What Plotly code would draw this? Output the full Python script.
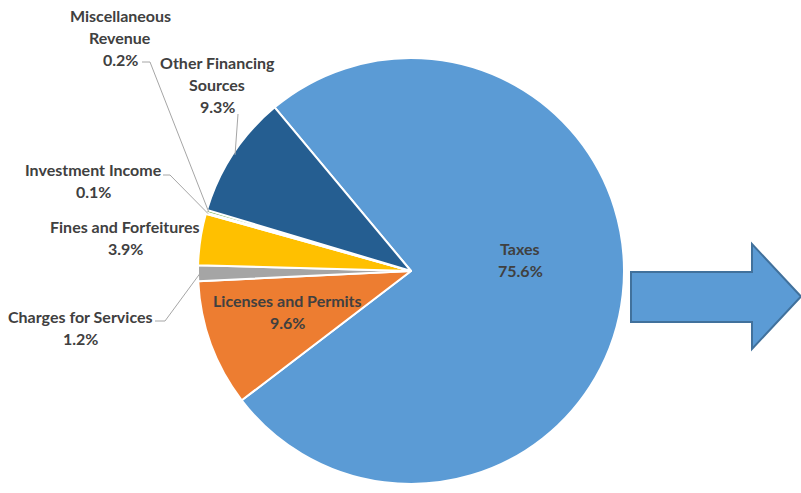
import math
import plotly.graph_objects as go

# ---- data ----
categories = ["Taxes", "Licenses and Permits", "Charges for Services",
              "Fines and Forfeitures", "Investment Income",
              "Miscellaneous Revenue", "Other Financing Sources"]
values = [75.6, 9.6, 1.2, 3.9, 0.1, 0.2, 9.3]
colors = ["#5B9BD5", "#ED7D31", "#A5A5A5", "#FFC000", "#4472C4", "#70AD47", "#255E91"]

# label lines (display text) per category
label_lines = {
    "Taxes": ["Taxes"],
    "Licenses and Permits": ["Licenses and Permits"],
    "Charges for Services": ["Charges for Services"],
    "Fines and Forfeitures": ["Fines and Forfeitures"],
    "Investment Income": ["Investment Income"],
    "Miscellaneous Revenue": ["Miscellaneous", "Revenue"],
    "Other Financing Sources": ["Other Financing", "Sources"],
}

# ---- layout constants (pixels) ----
W, H = 801, 493
CX, CY, R = 411, 271, 213
ROTATION = 320.2

# label anchor (center x, first-line center y) and leader elbows
label_pos = {
    "Taxes": (520, 248),
    "Licenses and Permits": (287, 300),
    "Charges for Services": (80, 316),
    "Fines and Forfeitures": (125, 226),
    "Investment Income": (93, 169),
    "Miscellaneous Revenue": (120, 15),
    "Other Financing Sources": (217, 62),
}
leader_start = {
    "Charges for Services": [(155, 321), (165, 321)],
    "Investment Income": [(163, 175), (170, 175)],
    "Miscellaneous Revenue": [(142, 62), (150, 62)],
    "Other Financing Sources": [(238, 114)],
}
LINE_H = 22

fig = go.Figure()
fig.add_trace(go.Pie(
    labels=categories, values=values, sort=False, direction="clockwise",
    rotation=ROTATION,
    marker=dict(colors=colors, line=dict(color="white", width=2)),
    textinfo="none", hoverinfo="label+percent",
    domain=dict(x=[(CX - R) / W, (CX + R) / W],
                y=[(H - CY - R) / H, (H - CY + R) / H]),
    showlegend=False,
))

total = sum(values)
annotations = []
shapes = []
cum = 0.0
for cat, v in zip(categories, values):
    mid = ROTATION + (cum + v / 2) / total * 360.0
    cum += v
    a = math.radians(mid)
    ex = CX + R * 0.99 * math.sin(a)
    ey = CY - R * 0.99 * math.cos(a)
    lx, ly = label_pos[cat]
    lines = label_lines[cat] + [f"{v:.1f}%"]
    for i, t in enumerate(lines):
        annotations.append(dict(
            x=lx, y=ly + i * LINE_H, xref="x", yref="y", text=t, showarrow=False,
            xanchor="center", yanchor="middle",
            font=dict(family="Lato", size=16, color="#404040", weight="bold"),
        ))
    if cat in leader_start:
        pts = leader_start[cat] + [(ex, ey)]
        path = "M " + " L ".join(f"{px},{py}" for px, py in pts)
        shapes.append(dict(type="path", xref="x", yref="y", path=path,
                           line=dict(color="#A6A6A6", width=1)))

# block arrow
arrow = [(631, 272), (752, 272), (752, 244), (801, 296.5), (752, 349), (752, 322), (631, 322)]
shapes.append(dict(type="path", xref="x", yref="y",
                   path="M " + " L ".join(f"{px},{py}" for px, py in arrow) + " Z",
                   fillcolor="#5B9BD5", line=dict(color="#41719C", width=2)))

fig.update_layout(
    width=W, height=H, margin=dict(l=0, r=0, t=0, b=0),
    paper_bgcolor="white", plot_bgcolor="rgba(0,0,0,0)",
    xaxis=dict(range=[0, W], visible=False, fixedrange=True),
    yaxis=dict(range=[H, 0], visible=False, fixedrange=True),
    annotations=annotations, shapes=shapes,
)
fig.write_html("out.html")
